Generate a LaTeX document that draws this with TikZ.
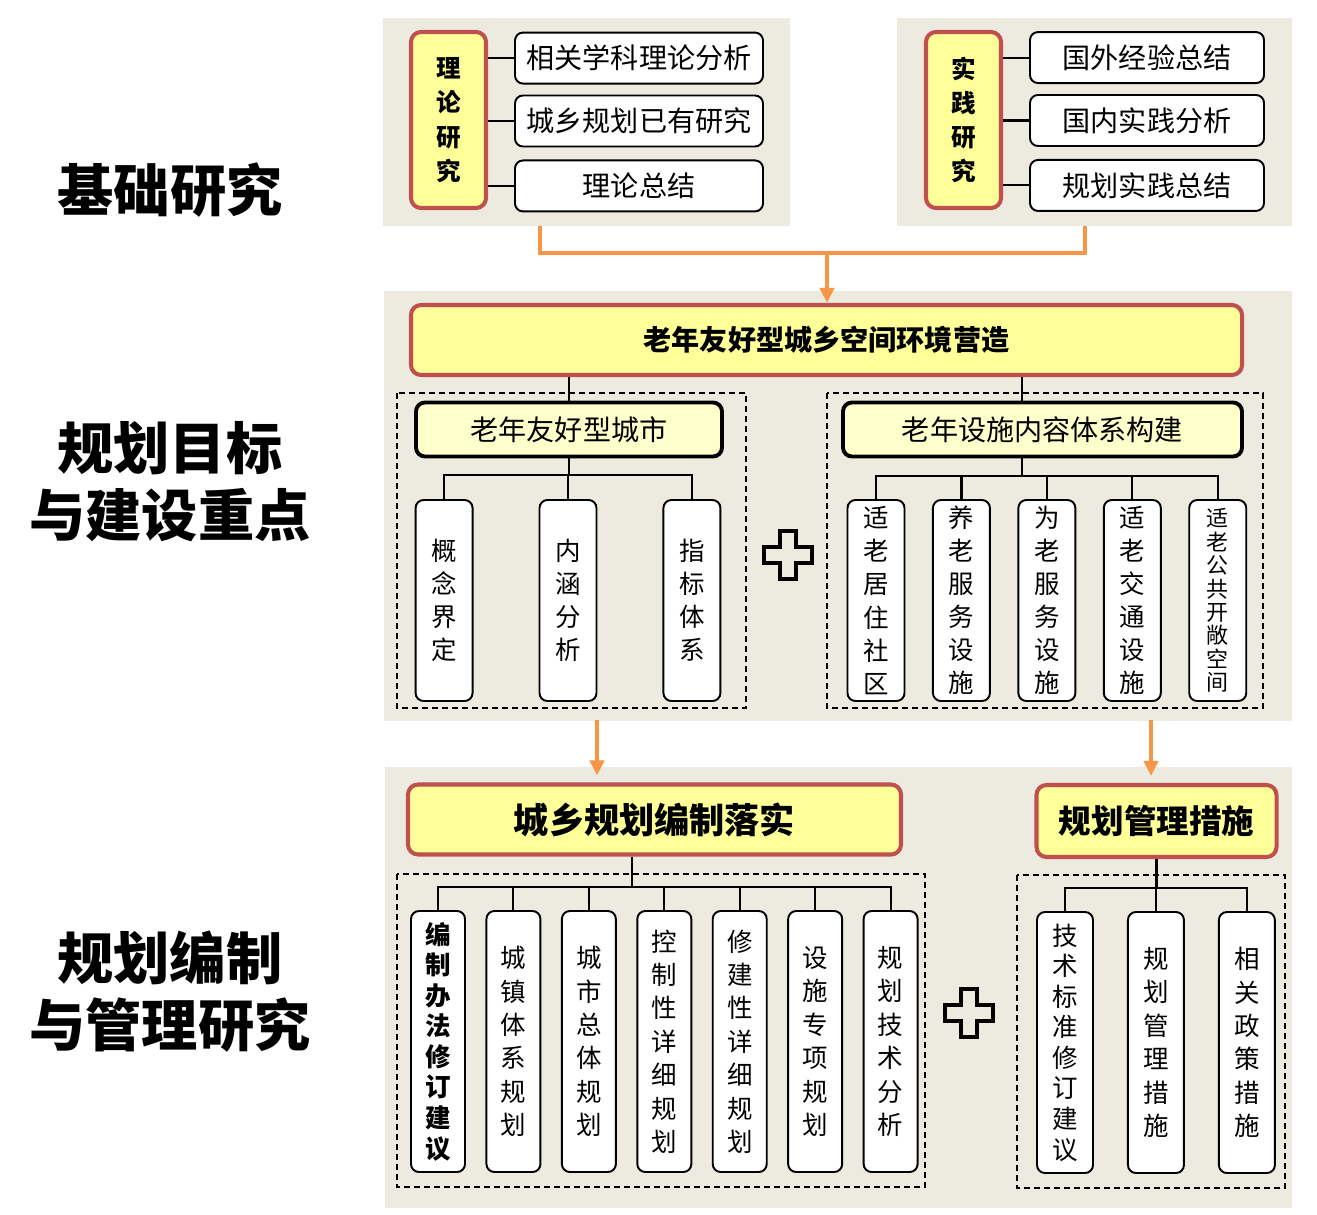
\documentclass[tikz,border=0pt]{standalone}
\usepackage{fontspec}
\setmainfont{Noto Sans CJK SC}
\usepackage{tikz}
\usetikzlibrary{arrows.meta,positioning}
\definecolor{PanelTan}{HTML}{EDEBE0}
\definecolor{HeadRed}{HTML}{C0504D}
\definecolor{HeadYellow}{HTML}{FFFF99}
\definecolor{SubYellow}{HTML}{FFFFCC}
\definecolor{FlowOrange}{HTML}{F79646}
\newcommand{\fsz}[2]{\fontsize{#1}{#2}\selectfont}
\tikzset{
  panelbg/.style={fill=PanelTan},
  rowtitle/.style={align=center, inner sep=0pt, font=\fsz{32}{38}\bfseries},
  keybox/.style={draw=HeadRed, line width=2.3pt, fill=HeadYellow, rounded corners=2mm, align=center, inner sep=0pt, font=\fsz{14}{19.5}\bfseries},
  headbox/.style={draw=HeadRed, line width=2.3pt, fill=HeadYellow, rounded corners=2mm, align=center, inner sep=0pt},
  subbox/.style={draw=black, line width=2.2pt, fill=SubYellow, rounded corners=1.8mm, minimum height=10.8mm, inner sep=0pt, font=\fsz{16}{19}},
  itembox/.style={draw=black, line width=1.1pt, fill=white, rounded corners=1.6mm, minimum height=10.2mm, inner sep=0pt, font=\fsz{16}{19}},
  leafbox/.style={draw=black, line width=1.1pt, fill=white, rounded corners=1.6mm, align=center, inner sep=0pt, minimum width=11.4mm, minimum height=40.2mm, font=\fsz{14.5}{18.8}},
  planleaf/.style={leafbox, minimum width=10.8mm, minimum height=52.2mm, font=\fsz{14.5}{19}},
  tree/.style={draw=black, line width=1.2pt},
  dashbox/.style={draw=black, line width=0.9pt, dash pattern=on 1.2mm off 0.8mm},
  flow/.style={draw=FlowOrange, line width=2.2pt},
  flowarrow/.style={flow, -{Triangle[length=3mm,width=2.8mm]}},
  plussign/.pic={
    \draw[line width=2.3pt, line join=miter] (-8,-24) -- ++(16,0) -- ++(0,16) -- ++(16,0) -- ++(0,16) -- ++(-16,0)
      -- ++(0,16) -- ++(-16,0) -- ++(0,-16) -- ++(-16,0) -- ++(0,-16) -- ++(16,0) -- cycle;
  }
}

\begin{document}
\begin{tikzpicture}[x=0.2mm, y=-0.2mm]
  \useasboundingbox[fill=white] (0,0) rectangle (1317,1214);

  % background panels
  \fill[panelbg] (383,18) rectangle (790,226);
  \fill[panelbg] (897,18) rectangle (1292,226);
  \fill[panelbg] (384,291) rectangle (1292,721);
  \fill[panelbg] (385,767) rectangle (1292,1208);

  % row titles
  \node[rowtitle] (basic) at (170,190) {基础研究};
  \node[rowtitle] (target) at (170,482) {规划目标\\与建设重点};
  \node[rowtitle] (compile) at (170,992) {规划编制\\与管理研究};

  % basic research
  \node[keybox, minimum width=15mm, minimum height=35.2mm] (theory) at (448.5,120) {理\\论\\研\\究};
  \node[itembox, minimum width=49.6mm] (th2) at (639,121) {城乡规划已有研究};
  \node[itembox, minimum width=49.6mm, above=2mm of th2] (th1) {相关学科理论分析};
  \node[itembox, minimum width=49.6mm, below=2.4mm of th2] (th3) {理论总结};
  \foreach \n in {th1,th2,th3}
    \draw[tree] (theory.east |- \n.west) -- (\n.west);

  \node[keybox, minimum width=15mm, minimum height=35.2mm] (practice) at (963.5,120) {实\\践\\研\\究};
  \node[itembox, minimum width=46.8mm] (pr2) at (1147,120.5) {国内实践分析};
  \node[itembox, minimum width=46.8mm, above=2mm of pr2] (pr1) {国外经验总结};
  \node[itembox, minimum width=46.8mm, below=2.4mm of pr2] (pr3) {规划实践总结};
  \foreach \n in {pr1,pr2,pr3}
    \draw[tree] (practice.east |- \n.west) -- (\n.west);

  % goals
  \node[headbox, minimum width=166.2mm, minimum height=14mm, font=\fsz{16}{19}\bfseries] (goal) at (826.5,340) {老年友好型城乡空间环境营造};

  \coordinate (fromTheory) at (540,226);
  \coordinate (fromPractice) at (1085,226);
  \coordinate (merge) at (827,253);
  \draw[flow] (fromTheory) |- (merge) -| (fromPractice);
  \draw[flowarrow] (merge) -- (merge |- goal.north);

  \draw[dashbox] (397,393) rectangle (746,708);
  \draw[dashbox] (827,393) rectangle (1263,708);

  \node[subbox, minimum width=61.2mm] (city) at (569,429.5) {老年友好型城市};
  \node[subbox, minimum width=79.8mm] (facility) at (1042.5,429.5) {老年设施内容体系构建};

  \node[leafbox] (c2) at (568,600.5) {内\\涵\\分\\析};
  \node[leafbox, left=13mm of c2] (c1) {概\\念\\界\\定};
  \node[leafbox, right=13mm of c2] (c3) {指\\标\\体\\系};

  \node[leafbox] (f1) at (876,600.5) {适\\老\\居\\住\\社\\区};
  \node[leafbox, right=5.3mm of f1] (f2) {养\\老\\服\\务\\设\\施};
  \node[leafbox, right=5.3mm of f2] (f3) {为\\老\\服\\务\\设\\施};
  \node[leafbox, right=5.3mm of f3] (f4) {适\\老\\交\\通\\设\\施};
  \node[leafbox, right=5.3mm of f4, font=\fsz{12.5}{13.3}] (f5) {适\\老\\公\\共\\开\\敞\\空\\间};

  \coordinate (splitCity) at (568,475);
  \draw[tree] (city.north) -- (city.north |- goal.south);
  \draw[tree] (city.south) -- (city.south |- splitCity);
  \draw[tree] (c1.north) |- (splitCity) -| (c3.north);
  \draw[tree] (c2.north) -- (c2.north |- splitCity);

  \coordinate (splitFacility) at (1022,476);
  \draw[tree] (splitFacility |- goal.south) -- (splitFacility |- facility.north);
  \draw[tree] (splitFacility |- facility.south) -- (splitFacility);
  \draw[tree] (f1.north) |- (splitFacility) -| (f5.north);
  \foreach \n in {f2,f3,f4}
    \draw[tree] (\n.north) -- (\n.north |- splitFacility);

  \pic at (788,555) {plussign};

  % planning and management
  \node[headbox, minimum width=98.6mm, minimum height=14mm, font=\fsz{20}{24}\bfseries] (plan) at (654.5,819.5) {城乡规划编制落实};
  \node[headbox, minimum width=48mm, minimum height=14.4mm, font=\fsz{18.5}{22}\bfseries] (measure) at (1156.5,821) {规划管理措施};

  \coordinate (toPlan) at (597,720);
  \coordinate (toMeasure) at (1151,720);
  \draw[flowarrow, shorten >=1.4mm] (toPlan) -- (toPlan |- plan.north);
  \draw[flowarrow, shorten >=1.4mm] (toMeasure) -- (toMeasure |- measure.north);

  \draw[dashbox] (397,874) rectangle (925,1187);
  \draw[dashbox] (1017,875) rectangle (1285,1188);

  \node[planleaf, font=\fsz{14.5}{17.4}\bfseries] (p1) at (438,1041.5) {编\\制\\办\\法\\修\\订\\建\\议};
  \node[planleaf, right=3.9mm of p1] (p2) {城\\镇\\体\\系\\规\\划};
  \node[planleaf, right=3.9mm of p2] (p3) {城\\市\\总\\体\\规\\划};
  \node[planleaf, right=3.9mm of p3] (p4) {控\\制\\性\\详\\细\\规\\划};
  \node[planleaf, right=3.9mm of p4] (p5) {修\\建\\性\\详\\细\\规\\划};
  \node[planleaf, right=3.9mm of p5] (p6) {设\\施\\专\\项\\规\\划};
  \node[planleaf, right=3.9mm of p6] (p7) {规\\划\\技\\术\\分\\析};

  \coordinate (splitPlan) at (632,887);
  \draw[tree] (splitPlan |- plan.south) -- (splitPlan);
  \draw[tree] (p1.north) |- (splitPlan) -| (p7.north);
  \foreach \n in {p2,p3,p4,p5,p6}
    \draw[tree] (\n.north) -- (\n.north |- splitPlan);

  \node[planleaf, minimum width=11.2mm, font=\fsz{14.5}{17.4}] (m1) at (1065,1042.5) {技\\术\\标\\准\\修\\订\\建\\议};
  \node[planleaf, minimum width=11.2mm, right=6.6mm of m1] (m2) {规\\划\\管\\理\\措\\施};
  \node[planleaf, minimum width=11.2mm, right=6.6mm of m2] (m3) {相\\关\\政\\策\\措\\施};

  \coordinate (splitMeasure) at (1156.5,888);
  \draw[tree] (measure.south) -- (splitMeasure);
  \draw[tree] (m1.north) |- (splitMeasure) -| (m3.north);
  \draw[tree] (m2.north) -- (m2.north |- splitMeasure);

  \pic at (969,1013) {plussign};
\end{tikzpicture}
\end{document}
